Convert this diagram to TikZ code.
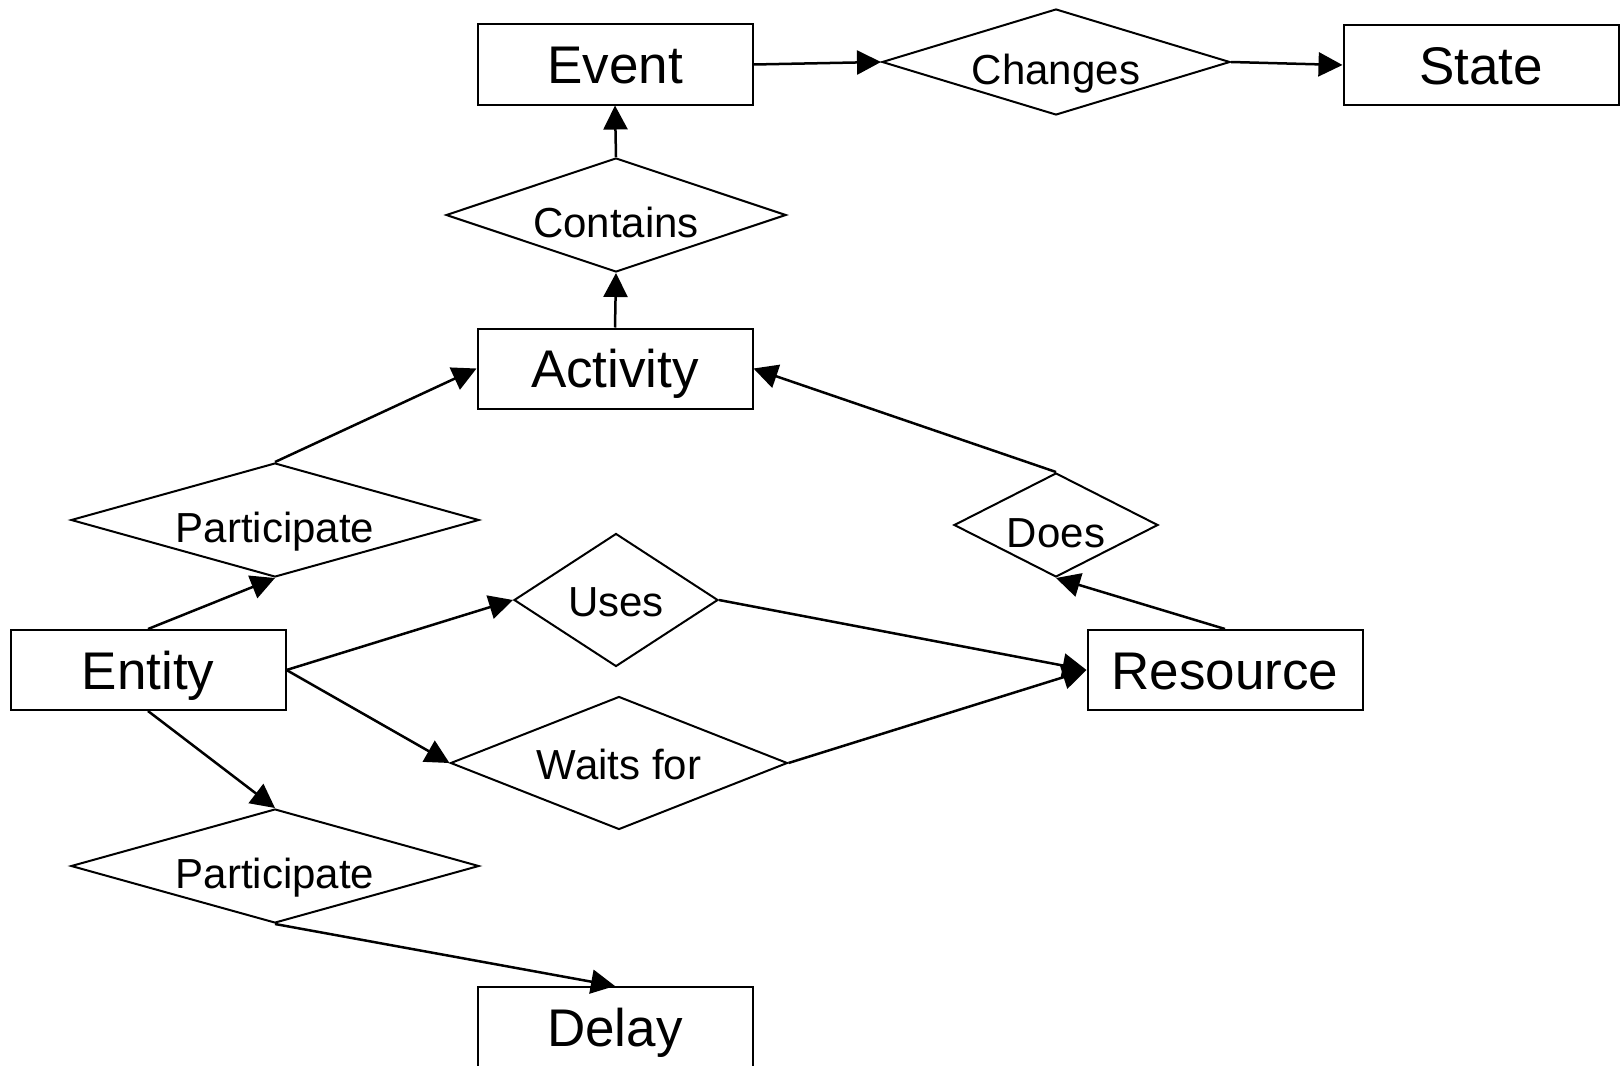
\documentclass[tikz,border=0pt]{standalone}
\usepackage{fontspec}
\setmainfont{Liberation Sans}
\usetikzlibrary{shapes.geometric,arrows.meta}
\begin{document}
\begin{tikzpicture}[x=1pt,y=-1pt,
  box/.style={draw,line width=2pt,minimum width=275pt,minimum height=80pt,inner sep=0pt,
    text height=38pt,text depth=0pt,font=\fontsize{53}{60}\selectfont},
  rel/.style={draw,diamond,line width=2pt,inner sep=0pt,
    text height=44pt,text depth=0pt,font=\fontsize{42}{48}\selectfont},
  conn/.style={line width=2.5pt,-{Triangle[length=24pt,width=24pt]}}]
\useasboundingbox (0,0) rectangle (1621,1065);
% entities
\node[box] (event) at (615,64.5) {Event};
\node[box] (state) at (1481,65) {State};
\node[box] (activity) at (615,368.5) {Activity};
\node[box] (entity) at (148,670) {Entity};
\node[box] (resource) at (1225,670) {Resource};
\node[box] (delay) at (615,1027) {Delay};
% relations
\node[rel,shape aspect=3.3,minimum width=348pt,minimum height=106pt] (changes) at (1056,62) {Changes};
\node[rel,shape aspect=3,minimum width=340pt,minimum height=114pt] (contains) at (616,215) {Contains};
\node[rel,shape aspect=3.5,minimum width=408pt,minimum height=114pt] (part1) at (275,520) {Participate};
\node[rel,shape aspect=1.5,text height=33pt,minimum width=204pt,minimum height=133pt] (uses) at (616,600) {Uses};
\node[rel,shape aspect=2,minimum width=204pt,minimum height=104pt] (does) at (1056,525) {Does};
\node[rel,shape aspect=2,text height=33pt,minimum width=337pt,minimum height=133pt] (waits) at (619,763) {Waits for};
\node[rel,shape aspect=3.5,minimum width=408pt,minimum height=114pt] (part2) at (275,866) {Participate};
% connectors
\draw[conn] (event.east) -- (changes.west);
\draw[conn] (changes.east) -- (state.west);
\draw[conn] (activity.north) -- (contains.south);
\draw[conn] (contains.north) -- (event.south);
\draw[conn] (part1.north) -- (activity.west);
\draw[conn] (entity.north) -- (part1.south);
\draw[conn] (entity.east) -- (uses.west);
\draw[conn] (uses.east) -- (resource.west);
\draw[conn] (entity.east) -- (waits.west);
\draw[conn] (waits.east) -- (resource.west);
\draw[conn] (resource.north) -- (does.south);
\draw[conn] (does.north) -- (activity.east);
\draw[conn] (entity.south) -- (part2.north);
\draw[conn] (part2.south) -- (delay.north);
\end{tikzpicture}
\end{document}
